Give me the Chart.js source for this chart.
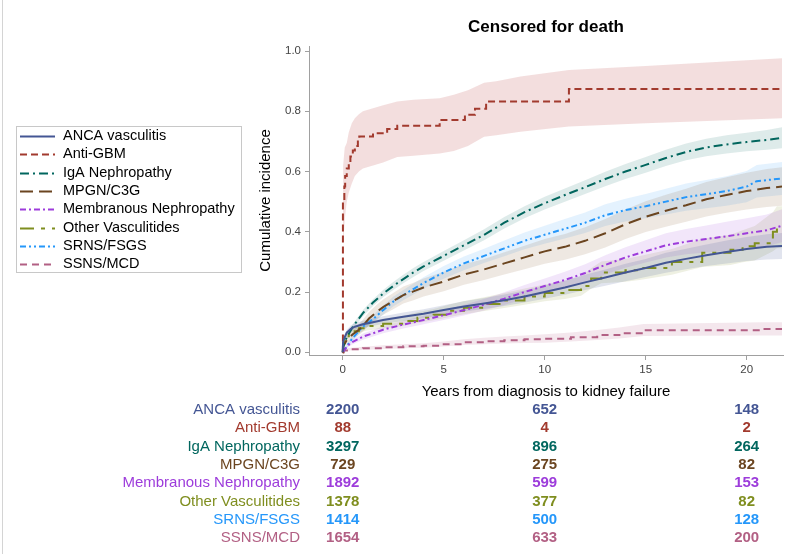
<!DOCTYPE html>
<html>
<head>
<meta charset="utf-8">
<script src="https://cdn.jsdelivr.net/npm/chart.js@4/dist/chart.umd.min.js"></script>
<style>
  html, body { margin: 0; padding: 0; background: #fff; }
  #wrap { width: 787px; height: 554px; }
</style>
</head>
<body>
<div id="wrap"><canvas id="cif" width="787" height="554"></canvas></div>
<script>
// Axis ticks and number-at-risk times
const X_TICKS = [0, 5, 10, 15, 20];
const Y_TICKS = [0, 0.2, 0.4, 0.6, 0.8, 1.0];
const RISK_TIMES = [0, 10, 20];

// ANCA vasculitis
const ancaT   = [0, 0.02, 0.1, 0.2, 0.4, 0.6, 1, 1.5, 2, 3, 4, 5, 6, 7, 8, 9, 10, 11, 12, 13, 14, 15, 16, 17, 18, 19, 20, 21, 21.75];
const ancaCif = [0, 0.035, 0.05, 0.065, 0.078, 0.085, 0.093, 0.1, 0.107, 0.118, 0.128, 0.14, 0.152, 0.162, 0.173, 0.185, 0.2, 0.215, 0.232, 0.248, 0.265, 0.28, 0.297, 0.31, 0.322, 0.333, 0.343, 0.35, 0.353];
const ancaLo  = [0, 0.028, 0.041, 0.055, 0.067, 0.074, 0.081, 0.088, 0.094, 0.104, 0.113, 0.124, 0.135, 0.144, 0.154, 0.165, 0.178, 0.191, 0.207, 0.221, 0.236, 0.25, 0.264, 0.276, 0.286, 0.295, 0.303, 0.308, 0.31];
const ancaHi  = [0, 0.043, 0.059, 0.075, 0.089, 0.097, 0.105, 0.113, 0.12, 0.132, 0.143, 0.156, 0.169, 0.18, 0.192, 0.205, 0.222, 0.239, 0.257, 0.275, 0.294, 0.31, 0.33, 0.344, 0.358, 0.371, 0.383, 0.392, 0.396];
const ancaRisk = [2200, 652, 148];

// Anti-GBM
const gbmT     = [0, 0.01, 0.08, 0.12, 0.2, 0.3, 0.38, 0.5, 0.6, 0.75, 0.82, 1.5, 2.2, 2.7, 4.8, 6.05, 6.55, 7.1, 11.2, 21.75];
const gbmCif   = [0, 0.5, 0.55, 0.585, 0.61, 0.625, 0.65, 0.67, 0.685, 0.705, 0.716, 0.727, 0.741, 0.752, 0.771, 0.788, 0.808, 0.832, 0.874, 0.874];
const gbmBandT = [0, 0.02, 0.1, 0.2, 0.3, 0.45, 0.6, 0.8, 1.0, 1.5, 2.0, 2.7, 3.5, 4.8, 5.5, 6.2, 7.0, 7.6, 8.8, 11.2, 15, 21.75];
const gbmLo    = [0, 0.36, 0.44, 0.5, 0.53, 0.56, 0.585, 0.6, 0.61, 0.62, 0.63, 0.648, 0.652, 0.66, 0.668, 0.685, 0.715, 0.72, 0.732, 0.749, 0.76, 0.777];
const gbmHi    = [0.06, 0.62, 0.68, 0.695, 0.73, 0.76, 0.777, 0.79, 0.8, 0.81, 0.82, 0.832, 0.838, 0.843, 0.855, 0.87, 0.895, 0.9, 0.915, 0.937, 0.95, 0.976];
const gbmRisk  = [88, 4, 2];

// IgA Nephropathy
const igaT   = [0, 0.05, 0.2, 0.5, 1, 1.5, 2, 2.5, 3, 3.5, 4, 5, 6, 7, 8, 9, 10, 11, 12, 13, 14, 15, 16, 17, 18, 19, 20, 21, 21.75];
const igaCif = [0, 0.025, 0.05, 0.085, 0.13, 0.165, 0.195, 0.22, 0.243, 0.265, 0.285, 0.32, 0.355, 0.39, 0.43, 0.465, 0.495, 0.522, 0.548, 0.575, 0.6, 0.622, 0.645, 0.665, 0.68, 0.69, 0.698, 0.705, 0.712];
const igaLo  = [0, 0.02, 0.043, 0.077, 0.12, 0.154, 0.183, 0.207, 0.229, 0.25, 0.27, 0.304, 0.338, 0.372, 0.411, 0.445, 0.474, 0.5, 0.525, 0.551, 0.575, 0.596, 0.618, 0.637, 0.651, 0.66, 0.667, 0.672, 0.677];
const igaHi  = [0, 0.03, 0.057, 0.093, 0.14, 0.176, 0.207, 0.233, 0.257, 0.28, 0.3, 0.336, 0.372, 0.408, 0.449, 0.485, 0.516, 0.544, 0.571, 0.599, 0.625, 0.648, 0.672, 0.693, 0.709, 0.72, 0.729, 0.738, 0.747];
const igaRisk = [3297, 896, 264];

// MPGN/C3G
const mpgnT   = [0, 0.02, 0.2, 0.5, 0.8, 1, 1.3, 1.7, 2, 2.5, 3, 3.5, 4, 5, 6, 7, 8, 9, 10, 11, 12, 13, 14, 15, 16, 17, 18, 19, 20, 21, 21.75];
const mpgnCif = [0, 0.02, 0.04, 0.06, 0.075, 0.088, 0.112, 0.135, 0.15, 0.17, 0.19, 0.202, 0.215, 0.235, 0.258, 0.275, 0.295, 0.315, 0.335, 0.35, 0.37, 0.395, 0.425, 0.45, 0.47, 0.488, 0.508, 0.522, 0.535, 0.545, 0.55];
const mpgnLo  = [0, 0.011, 0.027, 0.044, 0.057, 0.068, 0.09, 0.111, 0.125, 0.143, 0.162, 0.173, 0.185, 0.203, 0.224, 0.24, 0.258, 0.276, 0.294, 0.307, 0.325, 0.348, 0.376, 0.399, 0.417, 0.433, 0.451, 0.463, 0.474, 0.482, 0.486];
const mpgnHi  = [0, 0.029, 0.053, 0.076, 0.093, 0.108, 0.134, 0.159, 0.175, 0.197, 0.218, 0.231, 0.245, 0.267, 0.292, 0.31, 0.332, 0.354, 0.376, 0.393, 0.415, 0.442, 0.474, 0.501, 0.523, 0.543, 0.565, 0.581, 0.596, 0.608, 0.614];
const mpgnRisk = [729, 275, 82];

// Membranous Nephropathy
const memT   = [0, 0.1, 0.3, 0.5, 0.8, 1, 1.5, 2, 3, 4, 5, 6, 7, 8, 9, 10, 11, 12, 13, 14, 15, 16, 17, 18, 19, 20, 21, 21.75];
const memCif = [0, 0.01, 0.025, 0.035, 0.045, 0.052, 0.063, 0.075, 0.092, 0.107, 0.123, 0.14, 0.158, 0.178, 0.2, 0.22, 0.24, 0.263, 0.29, 0.315, 0.335, 0.355, 0.367, 0.376, 0.385, 0.395, 0.405, 0.42];
const memLo  = [0, 0.006, 0.018, 0.027, 0.036, 0.042, 0.052, 0.063, 0.079, 0.093, 0.107, 0.122, 0.139, 0.157, 0.177, 0.195, 0.213, 0.234, 0.258, 0.281, 0.298, 0.315, 0.325, 0.331, 0.337, 0.345, 0.353, 0.365];
const memHi  = [0, 0.014, 0.032, 0.043, 0.054, 0.062, 0.074, 0.087, 0.105, 0.121, 0.139, 0.158, 0.177, 0.199, 0.223, 0.245, 0.267, 0.292, 0.322, 0.349, 0.372, 0.395, 0.409, 0.421, 0.433, 0.445, 0.457, 0.475];
const memRisk = [1892, 599, 153];

// Other Vasculitides
const ovT   = [0, 0.02, 0.1, 0.3, 0.5, 0.8, 1.2, 2, 3, 3.7, 4.5, 5.3, 6, 7, 8, 9, 10, 11, 11.8, 12.3, 12.8, 14, 14.7, 16.3, 17.8, 19.2, 19.8, 20.4, 21.3, 21.5, 21.75];
const ovCif = [0, 0.03, 0.045, 0.06, 0.07, 0.08, 0.087, 0.095, 0.104, 0.115, 0.125, 0.138, 0.148, 0.16, 0.172, 0.185, 0.197, 0.207, 0.22, 0.245, 0.265, 0.272, 0.28, 0.3, 0.33, 0.34, 0.352, 0.362, 0.4, 0.415, 0.415];
const ovLo  = [0, 0.022, 0.035, 0.048, 0.057, 0.066, 0.072, 0.079, 0.087, 0.097, 0.106, 0.117, 0.126, 0.137, 0.147, 0.158, 0.169, 0.177, 0.188, 0.211, 0.229, 0.234, 0.24, 0.257, 0.283, 0.29, 0.299, 0.305, 0.335, 0.345, 0.345];
const ovHi  = [0, 0.038, 0.055, 0.072, 0.083, 0.094, 0.102, 0.111, 0.121, 0.133, 0.144, 0.159, 0.17, 0.183, 0.197, 0.212, 0.225, 0.237, 0.252, 0.279, 0.301, 0.31, 0.32, 0.343, 0.377, 0.39, 0.405, 0.419, 0.465, 0.485, 0.485];
const ovRisk = [1378, 377, 82];

// SRNS/FSGS
const srnsT   = [0, 0.1, 0.3, 0.5, 0.8, 1, 1.5, 2, 2.5, 3, 3.5, 4, 5, 6, 7, 8, 9, 10, 11, 12, 13, 14, 15, 16, 17, 18, 19, 20, 20.5, 21.75];
const srnsCif = [0, 0.01, 0.03, 0.048, 0.07, 0.085, 0.11, 0.14, 0.168, 0.19, 0.21, 0.23, 0.265, 0.295, 0.32, 0.345, 0.37, 0.39, 0.41, 0.43, 0.455, 0.472, 0.485, 0.5, 0.515, 0.525, 0.535, 0.55, 0.568, 0.577];
const srnsLo  = [0, 0.005, 0.022, 0.038, 0.059, 0.073, 0.097, 0.125, 0.152, 0.173, 0.192, 0.211, 0.244, 0.272, 0.296, 0.319, 0.342, 0.36, 0.378, 0.396, 0.419, 0.434, 0.445, 0.457, 0.47, 0.478, 0.486, 0.498, 0.514, 0.522];
const srnsHi  = [0, 0.015, 0.038, 0.058, 0.081, 0.097, 0.123, 0.155, 0.184, 0.207, 0.228, 0.249, 0.286, 0.318, 0.344, 0.371, 0.398, 0.42, 0.442, 0.464, 0.491, 0.51, 0.525, 0.543, 0.56, 0.572, 0.584, 0.602, 0.622, 0.632];
const srnsRisk = [1414, 500, 128];

// SSNS/MCD
const ssnsT   = [0, 0.05, 0.3, 1, 2, 3, 4, 5, 6, 7, 8, 9, 10, 11.3, 12.6, 13.7, 14.9, 20.8, 21.75];
const ssnsCif = [0, 0.006, 0.01, 0.013, 0.017, 0.02, 0.022, 0.027, 0.033, 0.037, 0.04, 0.043, 0.045, 0.05, 0.057, 0.063, 0.073, 0.077, 0.077];
const ssnsLo  = [0, 0.003, 0.006, 0.008, 0.011, 0.013, 0.015, 0.019, 0.024, 0.027, 0.029, 0.031, 0.032, 0.036, 0.041, 0.046, 0.054, 0.056, 0.056];
const ssnsHi  = [0, 0.009, 0.014, 0.018, 0.023, 0.027, 0.03, 0.036, 0.043, 0.048, 0.052, 0.056, 0.06, 0.066, 0.074, 0.082, 0.094, 0.1, 0.1];
const ssnsRisk = [1654, 633, 200];

// Group styling (colour, dash pattern, step drawing)
const SERIES = [
  { label: 'ANCA vasculitis',        color: '#445694', band: 'rgba(68,86,148,0.16)',  dash: [],                 stepped: false, t: ancaT, cif: ancaCif, bandT: ancaT,   lo: ancaLo, hi: ancaHi, risk: ancaRisk },
  { label: 'Anti-GBM',               color: '#A23A2E', band: 'rgba(190,70,70,0.18)',  dash: [7, 4],             stepped: true,  t: gbmT,  cif: gbmCif,  bandT: gbmBandT, lo: gbmLo,  hi: gbmHi,  risk: gbmRisk },
  { label: 'IgA Nephropathy',        color: '#01665E', band: 'rgba(1,102,94,0.13)',   dash: [9, 4, 2, 4],       stepped: false, t: igaT,  cif: igaCif,  bandT: igaT,    lo: igaLo,  hi: igaHi,  risk: igaRisk },
  { label: 'MPGN/C3G',               color: '#6b4520', band: 'rgba(120,80,30,0.13)',  dash: [13, 6],            stepped: false, t: mpgnT, cif: mpgnCif, bandT: mpgnT,   lo: mpgnLo, hi: mpgnHi, risk: mpgnRisk },
  { label: 'Membranous Nephropathy', color: '#9D3CDB', band: 'rgba(157,60,219,0.13)', dash: [6, 3, 2, 3],       stepped: false, t: memT,  cif: memCif,  bandT: memT,    lo: memLo,  hi: memHi,  risk: memRisk },
  { label: 'Other Vasculitides',     color: '#7F8E1F', band: 'rgba(127,142,31,0.13)', dash: [14, 7, 4, 7],      stepped: true,  t: ovT,   cif: ovCif,   bandT: ovT,     lo: ovLo,   hi: ovHi,   risk: ovRisk },
  { label: 'SRNS/FSGS',              color: '#2597FA', band: 'rgba(37,151,250,0.12)', dash: [6, 3, 2, 3, 2, 3], stepped: false, t: srnsT, cif: srnsCif, bandT: srnsT,   lo: srnsLo, hi: srnsHi, risk: srnsRisk },
  { label: 'SSNS/MCD',               color: '#B26084', band: 'rgba(178,96,132,0.15)', dash: [7, 5],             stepped: true,  t: ssnsT, cif: ssnsCif, bandT: ssnsT,   lo: ssnsLo, hi: ssnsHi, risk: ssnsRisk }
];

const FONT = '"Liberation Sans", Arial, Helvetica, sans-serif';
const pts = (xs, ys) => xs.map((x, i) => ({ x: x, y: ys[i] }));

// Lines first (drawn on top), then the confidence bands (lower + upper filled to lower)
const datasets = [];
SERIES.forEach(s => {
  datasets.push({
    label: s.label, data: pts(s.t, s.cif), borderColor: s.color, borderWidth: 2,
    borderDash: s.dash, stepped: s.stepped, fill: false, pointRadius: 0, order: 1
  });
});
SERIES.forEach(s => {
  const loIndex = datasets.length;
  datasets.push({
    label: s.label + ' lower', data: pts(s.bandT, s.lo), borderWidth: 0,
    borderColor: 'rgba(0,0,0,0)', pointRadius: 0, fill: false, order: 2
  });
  datasets.push({
    label: s.label + ' upper', data: pts(s.bandT, s.hi), borderWidth: 0,
    borderColor: 'rgba(0,0,0,0)', pointRadius: 0, backgroundColor: s.band,
    fill: { target: loIndex }, order: 2
  });
});

// Titles, legend box and number-at-risk table
const decorations = {
  id: 'decorations',
  afterDraw(chart) {
    const ctx = chart.ctx;
    const area = chart.chartArea;
    const xs = chart.scales.x;
    const cx = (area.left + area.right) / 2;
    ctx.save();

    // outer frame
    ctx.strokeStyle = '#d4d4d4';
    ctx.lineWidth = 1;
    ctx.beginPath();
    ctx.moveTo(2.5, 0); ctx.lineTo(2.5, 554);
    ctx.stroke();

    ctx.fillStyle = '#000';
    ctx.textAlign = 'center';
    ctx.textBaseline = 'middle';
    ctx.font = 'bold 17px ' + FONT;
    ctx.fillText('Censored for death', cx, 27);

    ctx.font = '15px ' + FONT;
    ctx.fillText('Years from diagnosis to kidney failure', cx, 392);

    ctx.save();
    ctx.translate(266, (area.top + area.bottom) / 2);
    ctx.rotate(-Math.PI / 2);
    ctx.fillText('Cumulative incidence', 0, 0);
    ctx.restore();

    // legend
    ctx.strokeStyle = '#c8c8c8';
    ctx.lineWidth = 1;
    ctx.strokeRect(16.5, 126.5, 225, 146);
    ctx.font = '14.5px ' + FONT;
    ctx.textAlign = 'left';
    SERIES.forEach((s, i) => {
      const y = 136 + i * 18.3;
      ctx.strokeStyle = s.color;
      ctx.lineWidth = 2;
      ctx.setLineDash(s.dash);
      ctx.beginPath();
      ctx.moveTo(20, Math.round(y) + 0.5);
      ctx.lineTo(55, Math.round(y) + 0.5);
      ctx.stroke();
      ctx.setLineDash([]);
      ctx.fillStyle = '#000';
      ctx.fillText(s.label, 63, y);
    });

    // number at risk
    SERIES.forEach((s, i) => {
      const y = 410 + i * 18.3;
      ctx.fillStyle = s.color;
      ctx.textAlign = 'right';
      ctx.font = '15px ' + FONT;
      ctx.fillText(s.label, 300, y);
      ctx.textAlign = 'center';
      ctx.font = 'bold 15px ' + FONT;
      RISK_TIMES.forEach((t, j) => {
        ctx.fillText(String(s.risk[j]), xs.getPixelForValue(t), y);
      });
    });
    ctx.restore();
  }
};

new Chart(document.getElementById('cif'), {
  type: 'line',
  data: { datasets: datasets },
  options: {
    responsive: false,
    animation: false,
    devicePixelRatio: 1,
    layout: { padding: { top: 46, right: 4, bottom: 179, left: 0 } },
    plugins: { legend: { display: false }, title: { display: false }, tooltip: { enabled: false } },
    elements: { line: { tension: 0 } },
    scales: {
      x: {
        type: 'linear', min: -1.67, max: 21.8,
        afterFit: s => { s.height = 20; },
        afterBuildTicks: s => { s.ticks = X_TICKS.map(v => ({ value: v })); },
        ticks: { color: '#444', font: { size: 11.5, family: FONT }, padding: 3, maxRotation: 0, callback: v => String(v) },
        grid: { display: true, drawOnChartArea: false, drawTicks: true, tickLength: 5, color: '#a0a0a0' },
        border: { display: true, color: '#a0a0a0', width: 1 }
      },
      y: {
        type: 'linear', min: -0.009, max: 1.0166,
        afterFit: s => { s.width = 309; },
        afterBuildTicks: s => { s.ticks = Y_TICKS.map(v => ({ value: v })); },
        ticks: { color: '#444', font: { size: 11.5, family: FONT }, padding: 4, callback: v => Number(v).toFixed(1) },
        grid: { display: true, drawOnChartArea: false, drawTicks: true, tickLength: 4, color: '#a0a0a0' },
        border: { display: true, color: '#a0a0a0', width: 1 }
      }
    }
  },
  plugins: [decorations]
});
</script>
</body>
</html>
